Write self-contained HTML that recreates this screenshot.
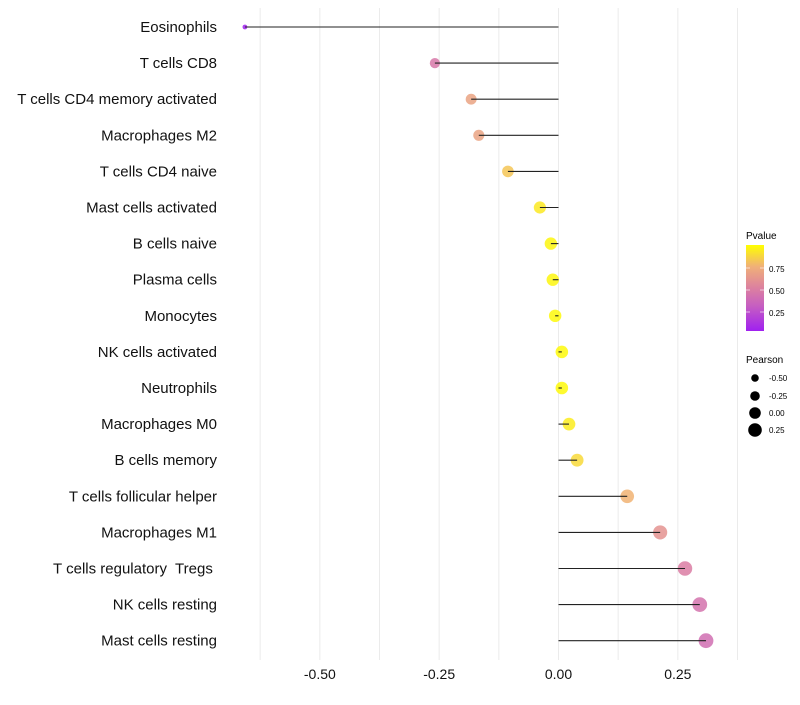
<!DOCTYPE html>
<html><head><meta charset="utf-8"><style>
body{margin:0;background:#fff;font-family:"Liberation Sans",sans-serif}
text{white-space:pre}
</style></head><body>
<svg id="chart" width="800" height="700" xmlns="http://www.w3.org/2000/svg">
<defs><linearGradient id="pg" x1="0" y1="1" x2="0" y2="0">
<stop offset="0" stop-color="#a020f0"/><stop offset="0.3" stop-color="#c760c0"/><stop offset="0.5" stop-color="#dc80a0"/><stop offset="0.75" stop-color="#f0b078"/><stop offset="1" stop-color="#ffff00"/>
</linearGradient></defs>
<g id="grid"></g><g id="points"></g><g id="marks"></g><g id="labels"></g>
<g font-size="10" fill="#000">
<text x="746" y="239">Pvalue</text>
<rect x="746" y="245" width="18" height="86" fill="url(#pg)"/>
<text x="769" y="272" font-size="8">0.75</text><text x="769" y="294" font-size="8">0.50</text><text x="769" y="316" font-size="8">0.25</text>
<line x1="746" y1="268" x2="750" y2="268" stroke="#fff" opacity=".6"/><line x1="760" y1="268" x2="764" y2="268" stroke="#fff" opacity=".6"/>
<line x1="746" y1="290" x2="750" y2="290" stroke="#fff" opacity=".6"/><line x1="760" y1="290" x2="764" y2="290" stroke="#fff" opacity=".6"/>
<line x1="746" y1="312" x2="750" y2="312" stroke="#fff" opacity=".6"/><line x1="760" y1="312" x2="764" y2="312" stroke="#fff" opacity=".6"/>
</g>
<g font-size="10">
<text x="746" y="363">Pearson</text>
<circle cx="755" cy="378" r="3.8"/><text x="769" y="381" font-size="8">-0.50</text>
<circle cx="755" cy="396" r="4.8"/><text x="769" y="399" font-size="8">-0.25</text>
<circle cx="755" cy="413" r="5.8"/><text x="769" y="416" font-size="8">0.00</text>
<circle cx="755" cy="430" r="6.8"/><text x="769" y="433" font-size="8">0.25</text>
</g>
</svg>
<script>
const categories=["Eosinophils","T cells CD8","T cells CD4 memory activated","Macrophages M2","T cells CD4 naive","Mast cells activated","B cells naive","Plasma cells","Monocytes","NK cells activated","Neutrophils","Macrophages M0","B cells memory","T cells follicular helper","Macrophages M1","T cells regulatory  Tregs ","NK cells resting","Mast cells resting"];
const pearson=[-0.657,-0.259,-0.183,-0.167,-0.106,-0.039,-0.016,-0.012,-0.007,0.007,0.007,0.022,0.039,0.144,0.213,0.265,0.296,0.309];
const pvalue=[0.003,0.45,0.68,0.68,0.82,0.93,0.97,0.97,0.98,0.98,0.98,0.94,0.88,0.76,0.6,0.48,0.42,0.39];
const xTicks=[-0.5,-0.25,0,0.25];
const xTickLabels=["-0.50","-0.25","0.00","0.25"];
const NS="http://www.w3.org/2000/svg";
const x=v=>558.5+v*477.3;
const y=i=>27+i*36.1;
const stops=[[0,[160,32,240]],[0.3,[199,96,192]],[0.5,[220,128,160]],[0.75,[240,176,120]],[1,[255,255,0]]];
function col(p){for(let k=1;k<stops.length;k++){if(p<=stops[k][0]){const a=stops[k-1],b=stops[k],t=(p-a[0])/(b[0]-a[0]);return "rgb("+a[1].map((c,j)=>Math.round(c+(b[1][j]-c)*t)).join(",")+")";}}return "rgb(255,255,0)";}
function mk(t,at,parent){const e=document.createElementNS(NS,t);for(const k in at)e.setAttribute(k,at[k]);parent.appendChild(e);return e;}
const grid=document.getElementById('grid'),marks=document.getElementById('marks'),labels=document.getElementById('labels'),pts=document.getElementById('points');
const pmin=Math.min(...pearson),pmax=Math.max(...pearson);
const rad=v=>Math.sqrt(2.4*2.4+(v-pmin)/(pmax-pmin)*(7.4*7.4-2.4*2.4));
for(let g=-0.625;g<=0.376;g+=0.125){const l=mk('line',{x1:x(g),x2:x(g),y1:8,y2:660,stroke:'#ebebeb','stroke-width':1},grid);

}
xTicks.forEach((v,i)=>{const t=mk('text',{x:x(v),y:679,'text-anchor':'middle','font-size':14,fill:'#111'},labels);t.textContent=xTickLabels[i];

});
categories.forEach((c,i)=>{
const t=mk('text',{x:217,y:y(i)+5,'text-anchor':'end','font-size':15,fill:'#111'},labels);t.textContent=c;


const p=mk('circle',{cx:x(pearson[i]),cy:y(i),r:rad(pearson[i]),fill:col(pvalue[i]),'fill-opacity':0.85},pts);


const l=mk('line',{x1:x(0),x2:x(pearson[i]),y1:y(i),y2:y(i),stroke:'#222','stroke-width':1.1},marks);


});
</script>
</body></html>
